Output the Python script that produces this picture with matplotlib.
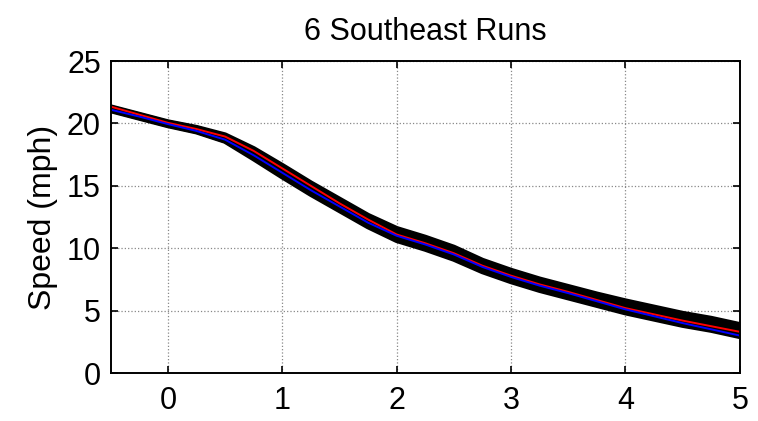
import numpy as np
import matplotlib
matplotlib.use("Agg")
import matplotlib.pyplot as plt

plt.rcParams['font.family'] = ['Liberation Sans', 'DejaVu Sans']

# time axis
t = [-0.5, -0.25, 0, 0.25, 0.5, 0.75, 1.0, 1.25, 1.5, 1.75, 2.0, 2.25,
     2.5, 2.75, 3.0, 3.25, 3.5, 3.75, 4.0, 4.25, 4.5, 4.75, 5.0]

# six individual runs (mph)
run1 = [21.3, 20.7, 20.1, 19.65, 19.05, 17.95, 16.6, 15.2, 13.9, 12.6, 11.55, 10.85,
        10.05, 9.0, 8.2, 7.5, 6.9, 6.3, 5.75, 5.25, 4.75, 4.35, 3.85]
run2 = [21.25, 20.65, 20.05, 19.6, 18.95, 17.8, 16.4, 15.0, 13.7, 12.4, 11.3, 10.6,
        9.8, 8.8, 8.0, 7.3, 6.7, 6.1, 5.5, 5.0, 4.5, 4.1, 3.6]
run3 = [21.2, 20.6, 20.0, 19.5, 18.85, 17.65, 16.25, 14.85, 13.55, 12.25, 11.15, 10.45,
        9.65, 8.65, 7.85, 7.15, 6.55, 5.95, 5.35, 4.85, 4.35, 3.95, 3.45]
run4 = [21.15, 20.55, 19.95, 19.45, 18.75, 17.5, 16.1, 14.7, 13.4, 12.1, 11.0, 10.3,
        9.5, 8.5, 7.7, 7.0, 6.4, 5.8, 5.15, 4.65, 4.15, 3.75, 3.25]
run5 = [21.1, 20.5, 19.9, 19.4, 18.65, 17.35, 15.9, 14.5, 13.2, 11.9, 10.8, 10.1,
        9.3, 8.3, 7.5, 6.8, 6.2, 5.6, 5.0, 4.5, 4.0, 3.6, 3.1]
run6 = [21.05, 20.45, 19.85, 19.35, 18.6, 17.2, 15.75, 14.35, 13.05, 11.75, 10.65, 9.95,
        9.15, 8.15, 7.35, 6.65, 6.05, 5.45, 4.85, 4.35, 3.85, 3.45, 2.95]

# red and blue overlay curves
red = [21.35, 20.7, 20.05, 19.55, 18.95, 17.8, 16.4, 15.0, 13.6, 12.3, 11.1, 10.4,
       9.6, 8.6, 7.8, 7.1, 6.5, 5.85, 5.2, 4.7, 4.2, 3.75, 3.3]
blue = [21.1, 20.55, 19.95, 19.4, 18.7, 17.45, 16.05, 14.65, 13.35, 12.05, 11.0, 10.3,
        9.5, 8.5, 7.7, 7.0, 6.4, 5.75, 5.1, 4.55, 4.0, 3.5, 3.0]

runs = [run1, run2, run3, run4, run5, run6]

fig = plt.figure(figsize=(7.58, 4.21), dpi=100)
ax = fig.add_axes([0.146, 0.114, 0.83, 0.741])

for r in runs:
    ax.plot(t, r, color='black', lw=4.2, solid_joinstyle='round')
ax.plot(t, red, color='red', lw=1.4)
ax.plot(t, blue, color='blue', lw=1.4)

ax.set_xlim(-0.5, 5)
ax.set_ylim(0, 25)
ax.set_xticks([0, 1, 2, 3, 4, 5])
ax.set_yticks([0, 5, 10, 15, 20, 25])
ax.grid(True, linestyle=':', color='#888888', lw=0.9)
ax.tick_params(direction='in', length=5, width=1.2, top=True, right=True,
               labelsize=22)
ax.tick_params(axis='y', pad=7)
ax.tick_params(axis='x', pad=9)
for s in ax.spines.values():
    s.set_linewidth(1.4)

ax.set_title('6 Southeast Runs', fontsize=22, pad=15)
ax.set_ylabel('Speed (mph)', fontsize=23, labelpad=6)

fig.savefig('out.png', dpi=100)
